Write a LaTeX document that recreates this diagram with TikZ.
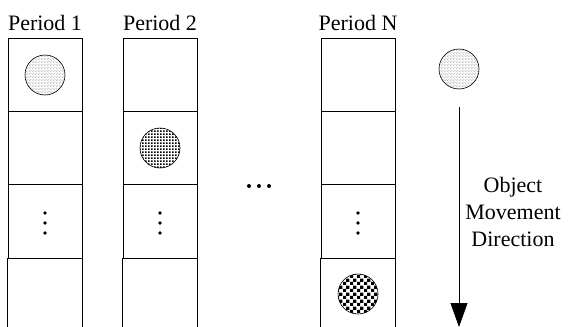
\documentclass[tikz,border=0pt]{standalone}
\usepackage{fontspec}
\setmainfont{Liberation Serif}
\usetikzlibrary{arrows.meta,patterns}

% small checkerboard, 3.5pt squares
\pgfdeclarepatternformonly{smallchecks}{\pgfpointorigin}{\pgfqpoint{7pt}{7pt}}{\pgfqpoint{7pt}{7pt}}{%
  \pgfpathrectangle{\pgfpointorigin}{\pgfqpoint{3.5pt}{3.5pt}}%
  \pgfpathrectangle{\pgfqpoint{3.5pt}{3.5pt}}{\pgfqpoint{3.5pt}{3.5pt}}%
  \pgfusepath{fill}}
% heavy dots
\pgfdeclarepatternformonly{densedots}{\pgfpointorigin}{\pgfqpoint{3.4pt}{3.4pt}}{\pgfqpoint{3.4pt}{3.4pt}}{%
  \pgfpathrectangle{\pgfpointorigin}{\pgfqpoint{1.8pt}{1.8pt}}%
  \pgfusepath{fill}}
% faint grid with dots
\pgfdeclarepatterninherentlycolored{dotgrid}{\pgfpointorigin}{\pgfqpoint{3.4pt}{3.4pt}}{\pgfqpoint{3.4pt}{3.4pt}}{%
  \pgfsetcolor{black!18}\pgfsetlinewidth{0.4pt}%
  \pgfpathmoveto{\pgfqpoint{0pt}{1.7pt}}\pgfpathlineto{\pgfqpoint{3.4pt}{1.7pt}}%
  \pgfpathmoveto{\pgfqpoint{1.7pt}{0pt}}\pgfpathlineto{\pgfqpoint{1.7pt}{3.4pt}}%
  \pgfusepath{stroke}%
  \pgfsetcolor{black!55}%
  \pgfpathrectangle{\pgfqpoint{0pt}{0pt}}{\pgfqpoint{0.8pt}{0.8pt}}%
  \pgfusepath{fill}}

\tikzset{
  cell/.style={draw, line width=0.8pt, minimum width=74pt, minimum height=73.3pt, inner sep=0pt},
  disc/.style={draw, circle, line width=0.6pt, minimum size=40pt, inner sep=0pt},
  label/.style={font=\fontsize{22}{27}\selectfont, align=center},
}

\begin{document}
\begin{tikzpicture}[x=1pt,y=-1pt]
\useasboundingbox (0,0) rectangle (571,327);
\coordinate (bot) at (0,327);

% period columns
\node[label, anchor=base] (p1) at (45,30) {Period 1};
\node[label, anchor=base] (p2) at (160,30) {Period 2};
\node[label, anchor=base] (pn) at (358,30) {Period N};

\node[cell] (a1) at (45,74.65) {};
\node[cell] (a2) at (45,147.95) {};
\node[cell] (a3) at (45,221.25) {};
\node[cell] (b1) at (160,74.65) {};
\node[cell] (b2) at (160,147.95) {};
\node[cell] (b3) at (160,221.25) {};
\node[cell] (n1) at (358,74.65) {};
\node[cell] (n2) at (358,147.95) {};
\node[cell] (n3) at (358,221.25) {};

% open bottom cells
\path[draw,line width=0.8pt] (a3.south west) -- (a3.south west |- bot);
\path[draw,line width=0.8pt] (a3.south east) -- (a3.south east |- bot);
\path[draw,line width=0.8pt] (b3.south west) -- (b3.south west |- bot);
\path[draw,line width=0.8pt] (b3.south east) -- (b3.south east |- bot);
\path[draw,line width=0.8pt] (n3.south west) -- (n3.south west |- bot);
\path[draw,line width=0.8pt] (n3.south east) -- (n3.south east |- bot);

% the object in each period
\node[disc, pattern=dotgrid] (o1) at (45,75) {};
\node[disc, pattern=densedots] (o2) at (160,148) {};
\node[disc, pattern=smallchecks] (on) at (358,294) {};

% skipped rows and periods
\foreach \x in {45,160,358}
  \foreach \y in {213,223,233}
    \fill (\x,\y) circle (1.8);
\foreach \x in {249,259,269}
  \fill (\x,186) circle (2);

% movement direction
\node[disc, pattern=dotgrid] (obj) at (459,69) {};
\coordinate (top) at (459,107);
\coordinate (end) at (459,327);
\path[draw,line width=0.8pt,-{Triangle[width=17pt,length=24pt]}] (top) -- (end);
\node[label] (dir) at (513,212) {Object\\Movement\\Direction};
\end{tikzpicture}
\end{document}
